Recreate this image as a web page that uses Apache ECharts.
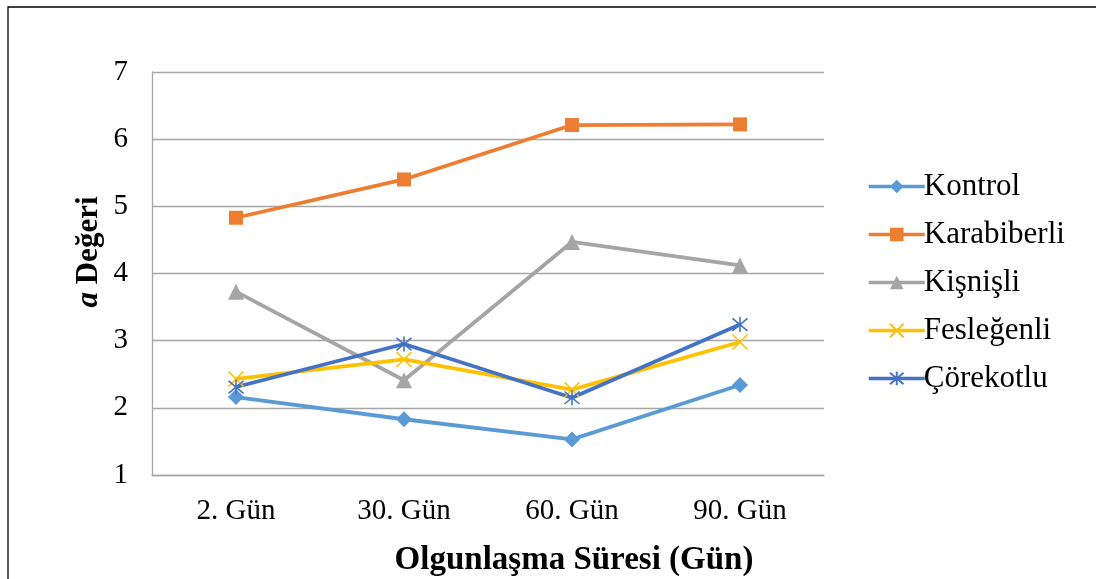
<!DOCTYPE html>
<html>
<head>
<meta charset="utf-8">
<script src="https://cdn.jsdelivr.net/npm/echarts@6/dist/echarts.min.js"></script>
<style>
html,body{margin:0;padding:0;background:#fff;}
#c{width:1096px;height:579px;}
</style>
</head>
<body>
<div id="c"></div>
<script>
var categories = ['2. Gün', '30. Gün', '60. Gün', '90. Gün'];
var kontrol = [2.16, 1.83, 1.53, 2.34];
var karabiberli = [4.83, 5.40, 6.21, 6.22];
var kisnisli = [3.73, 2.41, 4.47, 4.12];
var feslegenli = [2.43, 2.72, 2.27, 2.98];
var corekotlu = [2.31, 2.95, 2.15, 3.24];
var yTicks = [1, 2, 3, 4, 5, 6, 7];
var seriesNames = ['Kontrol', 'Karabiberli', 'Kişnişli', 'Fesleğenli', 'Çörekotlu'];

var FONT = '"Liberation Serif", "Times New Roman", serif';
var xPath = 'path://M0,0L10,10M10,0L0,10';
var starPath = 'path://M0,0L10,10M10,0L0,10M5,-1L5,11';

function mk(name, data, color, symbol, size, stroke) {
  var s = {
    name: name, type: 'line', data: data,
    symbol: symbol, symbolSize: size,
    lineStyle: {color: color, width: 3.8},
    itemStyle: {color: color},
    emphasis: {disabled: true}
  };
  if (stroke) {
    s.itemStyle = {color: 'rgba(0,0,0,0)', borderColor: color, borderWidth: 1.6};
  }
  return s;
}

var chart = echarts.init(document.getElementById('c'));
chart.setOption({
  animation: false,
  backgroundColor: '#fff',
  grid: {left: 152, right: 272, top: 72, bottom: 104},
  legend: {
    orient: 'vertical', left: 862, top: 166,
    itemWidth: 56, itemHeight: 17, itemGap: 17,
    lineStyle: {width: 3.5},
    textStyle: {fontFamily: FONT, fontSize: 31, color: '#000', padding: [0,0,0,-6]},
    data: seriesNames
  },
  xAxis: {
    type: 'category', data: categories, boundaryGap: true,
    axisLine: {lineStyle: {color: '#a6a6a6', width: 1.3}},
    axisTick: {show: false},
    axisLabel: {fontFamily: FONT, fontSize: 29, color: '#000', margin: 22}
  },
  yAxis: {
    type: 'value', min: yTicks[0], max: yTicks[yTicks.length-1], interval: 1,
    axisLine: {show: true, lineStyle: {color: '#a6a6a6', width: 1.3}},
    axisTick: {show: false},
    splitLine: {lineStyle: {color: '#a6a6a6', width: 1.3}},
    axisLabel: {fontFamily: FONT, fontSize: 29, color: '#000', margin: 24}
  },
  graphic: [
    {type: 'rect', shape: {x: 8, y: 7, width: 1200, height: 700}, style: {fill: 'none', stroke: '#000', lineWidth: 1.3}, silent: true},
    {type: 'text', x: 89, y: 252, rotation: Math.PI/2, silent: true,
      style: {text: '{a|a}{b| Değeri}', align: 'center', verticalAlign: 'middle',
        rich: {
          a: {fontFamily: FONT, fontSize: 31, fontWeight: 'bold', fontStyle: 'italic', fill: '#000'},
          b: {fontFamily: FONT, fontSize: 31, fontWeight: 'bold', fill: '#000'}
        }}},
    {type: 'text', x: 574, y: 560, silent: true,
      style: {text: 'Olgunlaşma Süresi (Gün)', align: 'center', verticalAlign: 'middle',
        fontFamily: FONT, fontSize: 33, fontWeight: 'bold', fill: '#000'}}
  ],
  series: [
    mk(seriesNames[0], kontrol, '#5b9bd5', 'diamond', 16),
    mk(seriesNames[1], karabiberli, '#ed7d31', 'rect', 14),
    mk(seriesNames[2], kisnisli, '#a5a5a5', 'triangle', 16),
    mk(seriesNames[3], feslegenli, '#ffc000', xPath, 15, true),
    mk(seriesNames[4], corekotlu, '#4472c4', starPath, 15, true)
  ]
});
</script>
</body>
</html>
